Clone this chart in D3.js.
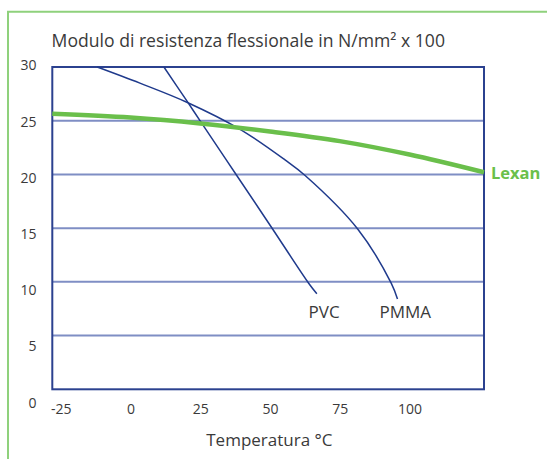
<!DOCTYPE html>
<html>
<head>
<meta charset="utf-8">
<script src="https://cdn.jsdelivr.net/npm/d3@7"></script>
<style>
  html, body { margin: 0; padding: 0; background: #fff; }
  svg { display: block; font-family: "Open Sans", "Noto Sans", sans-serif; }
</style>
</head>
<body>
<svg id="chart" width="547" height="459"></svg>
<script>
// ---- data ----
const titleText = "Modulo di resistenza flessionale in N/mm² x 100";
const xTitle = "Temperatura °C";
const xTicks = [-25, 0, 25, 50, 75, 100];
const yTicks = [0, 5, 10, 15, 20, 25, 30];

const lexanT = [-28, 0, 25, 50, 75, 100, 126.7];
const lexanV = [25.65, 25.3, 24.75, 24.0, 23.1, 21.85, 20.2];

const pvcT = [12, 20.4, 25.7, 38.1, 51, 63.8, 66.8];
const pvcV = [30, 26.77, 24.7, 19.9, 14.9, 9.9, 8.9];

const pmmaT = [-11.9, 3.4, 20.4, 39.3, 55.4, 62.6, 81.5, 93.4, 95.7];
const pmmaV = [30, 28.5, 26.7, 24.2, 21.35, 19.9, 14.9, 9.9, 8.4];

const seriesNames = ["Lexan", "PVC", "PMMA"];
const labelT = [null, 69.4, 98.5];
const labelV = [null, 7.2, 7.2];

// ---- layout ----
const svg = d3.select("#chart");
const L = 52.3, R = 484, T = 67, B = 389.3;

const x = d3.scaleLinear().domain([-28, 126.7]).range([L, R]);
const y = d3.scaleLinear().domain([0, 30]).range([B, T]);
const yLab = d3.scaleLinear().domain([0, 30]).range([402.7, 65.5]);

const navy = "#2b418f";
const grid = "#7f8ec4";
const green = "#6abf4b";
const textCol = "#3a3a3a";
const fam = "'Open Sans', 'Noto Sans', sans-serif";

// outer green frame
svg.append("path")
  .attr("d", "M8,459 L8,11.7 L547,11.7")
  .attr("fill", "none").attr("stroke", "#8fd17c").attr("stroke-width", 2);

// title
svg.append("text")
  .attr("x", 51.6).attr("y", 47)
  .attr("fill", textCol).attr("font-size", 17.6)
  .text(titleText);

// gridlines
svg.append("g").selectAll("line")
  .data(yTicks.filter(d => d > 0 && d < 30))
  .join("line")
  .attr("x1", L).attr("x2", R)
  .attr("y1", d => y(d)).attr("y2", d => y(d))
  .attr("stroke", grid).attr("stroke-width", 2);

// plot border
svg.append("rect")
  .attr("x", L).attr("y", T).attr("width", R - L).attr("height", B - T)
  .attr("fill", "none").attr("stroke", navy).attr("stroke-width", 2);

// y labels
const yAxis = d3.axisLeft(yLab).tickValues(yTicks).tickSize(0).tickPadding(0).tickFormat(d => String(d));
const gy = svg.append("g").attr("transform", "translate(36.5,0)").call(yAxis);
gy.select(".domain").remove();
gy.selectAll("text").attr("font-size", 14).attr("fill", textCol).attr("font-family", fam);

// x labels
const xAxis = d3.axisBottom(x).tickValues(xTicks).tickSize(0).tickPadding(0).tickFormat(d => String(d));
const gx = svg.append("g").attr("transform", "translate(0,404)").call(xAxis);
gx.select(".domain").remove();
gx.selectAll("text").attr("font-size", 14).attr("fill", textCol).attr("font-family", fam);

// x title
svg.append("text")
  .attr("x", 269.4).attr("y", 446)
  .attr("text-anchor", "middle").attr("fill", textCol).attr("font-size", 17)
  .text(xTitle);

// lines
const line = d3.line().x(d => x(d[0])).y(d => y(d[1])).curve(d3.curveCatmullRom.alpha(0.5));
const zip = (a, b) => a.map((v, i) => [v, b[i]]);

svg.append("path").datum(zip(pvcT, pvcV))
  .attr("d", line).attr("fill", "none").attr("stroke", "#1f3a8c").attr("stroke-width", 1.5);
svg.append("path").datum(zip(pmmaT, pmmaV))
  .attr("d", line).attr("fill", "none").attr("stroke", "#1f3a8c").attr("stroke-width", 1.5);
svg.append("path").datum(zip(lexanT, lexanV))
  .attr("d", line).attr("fill", "none").attr("stroke", green).attr("stroke-width", 4.5);

// series labels
[1, 2].forEach(i => {
  svg.append("text")
    .attr("x", x(labelT[i])).attr("y", y(labelV[i]))
    .attr("dy", "0.35em")
    .attr("text-anchor", "middle").attr("fill", textCol).attr("font-size", 17)
    .text(seriesNames[i]);
});
svg.append("text")
  .attr("x", x(lexanT[lexanT.length - 1]) + 7)
  .attr("y", y(lexanV[lexanV.length - 1]) + 1)
  .attr("dy", "0.35em")
  .attr("fill", green).attr("font-weight", "bold").attr("font-size", 16.5)
  .text(seriesNames[0]);
</script>
</body>
</html>
